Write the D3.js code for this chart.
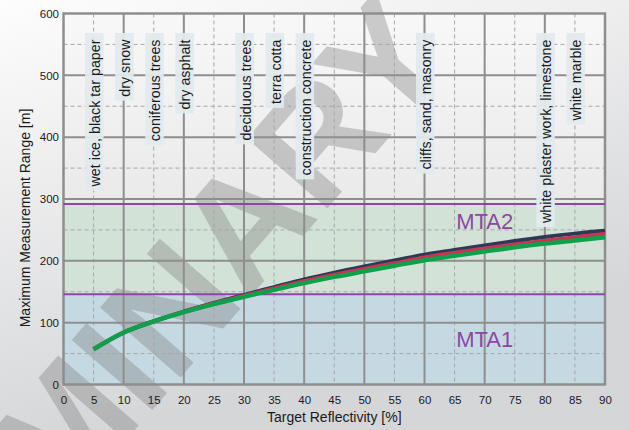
<!DOCTYPE html>
<html>
<head>
<meta charset="utf-8">
<script src="https://cdn.jsdelivr.net/npm/d3@7"></script>
<style>
  html, body { margin: 0; padding: 0; background: #fff; }
  svg { display: block; }
  text { font-family: Arial, "Liberation Sans", sans-serif; }
</style>
</head>
<body>
<svg id="chart" width="629" height="430"></svg>
<script>
// Reflectivity sample points [%]
const reflectivity = [5, 10, 15, 20, 25, 30, 35, 40, 45, 50, 55, 60, 65, 70, 75, 80, 85, 90];
// Maximum measurement range [m] for the three curves
const rangeDark  = [57, 84, 102.5, 118, 132, 145, 157.5, 170, 181, 191, 200.5, 210, 217.5, 225, 232, 238.5, 244, 248.5];
const rangeRed   = [57, 84, 102, 117.5, 131, 143.5, 155.5, 167, 177.5, 187, 196, 205.5, 213, 220, 226.5, 232.5, 238, 243.5];
const rangeGreen = [57, 84, 102, 117, 130, 142, 153, 164, 174, 183, 192, 201, 208, 215, 222, 228, 233, 238];

// MTA zone limits [m]
const mtaNames  = ["MTA1", "MTA2"];
const mtaLimits = [146, 292];

// Typical targets and their reflectivity [%]
const targetNames = ["wet ice, black tar paper", "dry snow", "coniferous trees", "dry asphalt",
  "deciduous trees", "terra cotta", "construction concrete", "cliffs, sand, masonry",
  "white plaster work, limestone", "white marble"];
const targetReflectivity = [5, 10, 15, 20, 30, 35, 40, 60, 80, 85];

// Axis ticks
const xTicks = d3.range(0, 91, 5);
const yTicks = [0, 100, 200, 300, 400, 500, 600];
const xMajor = [10, 20, 30, 40, 50, 60, 70, 80];
const xMinor = [5, 15, 25, 35, 45, 55, 65, 75, 85];
const yMajor = [100, 200, 300, 400, 500];
const yMinor = [50, 150, 250, 350, 450, 550];

const svg = d3.select("#chart");
const W = 629, H = 430;
const pLeft = 63.5, pRight = 605, pTop = 13.5, pBottom = 384.5;

const x = d3.scaleLinear().domain([0, 90]).range([pLeft, pRight]);
const y = d3.scaleLinear().domain([0, 600]).range([pBottom, pTop]);

const defs = svg.append("defs");
const pageGrad = defs.append("linearGradient").attr("id", "pageGrad")
  .attr("gradientUnits", "userSpaceOnUse")
  .attr("x1", 0).attr("y1", 0).attr("x2", 120).attr("y2", 430);
pageGrad.append("stop").attr("offset", 0).attr("stop-color", "#fdfdfd");
pageGrad.append("stop").attr("offset", 1).attr("stop-color", "#d5d6d8");

const plotGrad = defs.append("linearGradient").attr("id", "plotGrad")
  .attr("gradientUnits", "userSpaceOnUse")
  .attr("x1", 0).attr("y1", pTop).attr("x2", 0).attr("y2", pBottom);
plotGrad.append("stop").attr("offset", 0).attr("stop-color", "#f8f8f8");
plotGrad.append("stop").attr("offset", 1).attr("stop-color", "#dcdcdd");

svg.append("rect").attr("width", W).attr("height", H).attr("fill", "url(#pageGrad)");

// plot background and MTA bands
svg.append("rect").attr("x", pLeft).attr("y", pTop)
  .attr("width", pRight - pLeft).attr("height", pBottom - pTop).attr("fill", "url(#plotGrad)");
const bandColors = ["#c5d9e3", "#d3e2d7"];
const bandLower = [0, mtaLimits[0]];
svg.selectAll("rect.band").data(mtaLimits).join("rect").attr("class", "band")
  .attr("x", pLeft).attr("width", pRight - pLeft)
  .attr("y", d => y(d))
  .attr("height", (d, i) => y(bandLower[i]) - y(d))
  .attr("fill", (d, i) => bandColors[i]);

// diagonal watermark
svg.append("text")
  .attr("transform", "translate(458,58) rotate(-49)")
  .attr("text-anchor", "end")
  .style("font-family", "'Liberation Sans', Arial, sans-serif")
  .style("font-size", "155px").style("font-weight", "700")
  .attr("fill", "#7a7a7a").attr("fill-opacity", 0.36)
  .text("PRELIMINARY");

// grid
const grid = svg.append("g");
grid.selectAll("line.xmin").data(xMinor).join("line").attr("class", "xmin")
  .attr("x1", d => x(d)).attr("x2", d => x(d)).attr("y1", pTop).attr("y2", pBottom)
  .attr("stroke", "#a6a6a6").attr("stroke-width", 1).attr("stroke-dasharray", "4,3");
grid.selectAll("line.ymin").data(yMinor).join("line").attr("class", "ymin")
  .attr("y1", d => y(d)).attr("y2", d => y(d)).attr("x1", pLeft).attr("x2", pRight)
  .attr("stroke", "#a6a6a6").attr("stroke-width", 1).attr("stroke-dasharray", "4,3");
grid.selectAll("line.xmaj").data(xMajor).join("line").attr("class", "xmaj")
  .attr("x1", d => x(d)).attr("x2", d => x(d)).attr("y1", pTop).attr("y2", pBottom)
  .attr("stroke", "#8e8e8e").attr("stroke-width", 2);
grid.selectAll("line.ymaj").data(yMajor).join("line").attr("class", "ymaj")
  .attr("y1", d => y(d)).attr("y2", d => y(d)).attr("x1", pLeft).attr("x2", pRight)
  .attr("stroke", "#8e8e8e").attr("stroke-width", 2);

// frame
svg.append("rect").attr("x", pLeft).attr("y", pTop)
  .attr("width", pRight - pLeft).attr("height", pBottom - pTop)
  .attr("fill", "none").attr("stroke", "#8e8e8e").attr("stroke-width", 2.5);

// MTA limit lines
svg.selectAll("line.mta").data(mtaLimits).join("line").attr("class", "mta")
  .attr("x1", pLeft).attr("x2", pRight).attr("y1", d => y(d)).attr("y2", d => y(d))
  .attr("stroke", "#8f46a3").attr("stroke-width", 2);

// axes (labels only; the frame draws the domain)
const xAxis = svg.append("g").attr("transform", `translate(0,${pBottom})`)
  .call(d3.axisBottom(x).tickValues(xTicks).tickSize(0).tickPadding(11));
const yAxis = svg.append("g").attr("transform", `translate(${pLeft},0)`)
  .call(d3.axisLeft(y).tickValues(yTicks).tickSize(0).tickPadding(4.5));
[xAxis, yAxis].forEach(g => {
  g.select(".domain").remove();
  g.selectAll("text").attr("fill", "#1a1a1a")
    .style("font-family", "'Liberation Sans Narrow', 'Arial Narrow', Arial, sans-serif")
    .style("font-size", "11.5px");
});

svg.append("text").attr("x", (pLeft + pRight) / 2).attr("y", 422)
  .attr("text-anchor", "middle").attr("fill", "#1a1a1a").style("font-size", "14px")
  .text("Target Reflectivity [%]");
svg.append("text").attr("transform", "translate(29.5,218) rotate(-90)")
  .attr("text-anchor", "middle").attr("fill", "#1a1a1a").style("font-size", "14px")
  .text("Maximum Measurement Range [m]");

// target labels with boxes
const labels = svg.append("g");
targetNames.forEach((name, i) => {
  const cx = x(targetReflectivity[i]);
  const g = labels.append("g");
  const box = g.append("rect").attr("fill", "#e2eaee").attr("fill-opacity", 0.95);
  const t = g.append("text")
    .attr("transform", `translate(${cx + 6.5},39.5) rotate(-90)`)
    .attr("text-anchor", "end").attr("fill", "#1a1a1a").style("font-size", "14.3px")
    .text(name);
  const len = t.node().getComputedTextLength();
  box.attr("x", cx - 8.5).attr("width", 18.5).attr("y", 33).attr("height", len + 10.5);
});

// range curves
const line = d3.line().x(d => x(d[0])).y(d => y(d[1])).curve(d3.curveMonotoneX);
const seriesList = [
  { values: rangeDark,  color: "#2c3a57", width: 4 },
  { values: rangeRed,   color: "#c73552", width: 4 },
  { values: rangeGreen, color: "#0fa04c", width: 4.5 }
];
seriesList.forEach(s => {
  svg.append("path")
    .datum(reflectivity.map((r, i) => [r, s.values[i]]))
    .attr("d", line).attr("fill", "none")
    .attr("stroke", s.color).attr("stroke-width", s.width);
});

// MTA zone names
const mtaBaselines = [347, 229];
svg.selectAll("text.mtaname").data(mtaNames).join("text").attr("class", "mtaname")
  .attr("x", x(70)).attr("y", (d, i) => mtaBaselines[i])
  .attr("text-anchor", "middle").attr("fill", "#8f46a3").style("font-size", "22px")
  .text(d => d);
</script>
</body>
</html>
